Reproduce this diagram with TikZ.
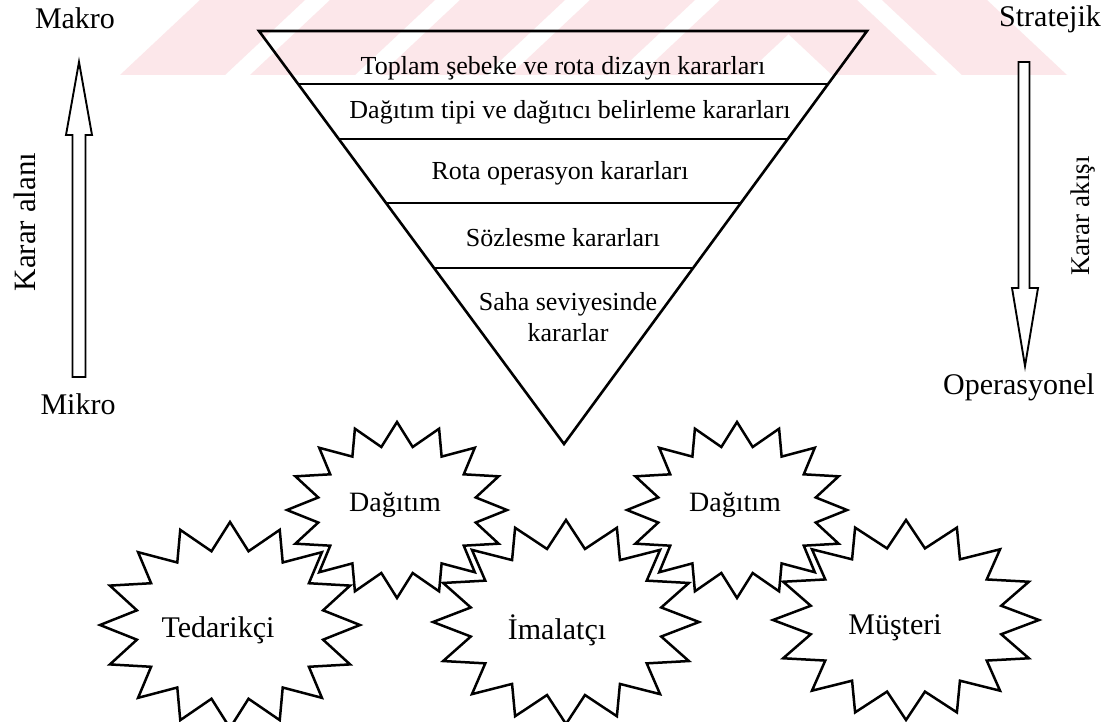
\documentclass[tikz,border=0pt]{standalone}
\usepackage{fontspec}
\setmainfont{Liberation Serif}
\usetikzlibrary{calc}

\definecolor{wmpink}{RGB}{252,231,234}

% a sixteen-point star drawn around (cx,cy) with radii rx, ry
\newcommand\gearstar[4]{%
  \filldraw[starline] ({#1+#3},{#2})
    \foreach \k in {1,...,31}{
      -- ({#1+ifthenelse(isodd(\k),0.73,1)*#3*cos(\k*11.25)},
          {#2-ifthenelse(isodd(\k),0.73,1)*#4*sin(\k*11.25)})
    } -- cycle;}

\begin{document}
\begin{tikzpicture}[x=1pt,y=-1pt,
  edge/.style={line width=2.6pt, line join=miter},
  divider/.style={line width=2pt},
  starline/.style={line width=2.5pt, line join=miter, fill=white, draw=black},
  blockarrow/.style={line width=1.9pt, line join=miter, fill=white},
  tritext/.style={font=\fontsize{26}{31}\selectfont, align=center, inner sep=0pt},
  sidetext/.style={font=\fontsize{30}{34}\selectfont, inner sep=0pt},
  startext/.style={font=\fontsize{30}{34}\selectfont, inner sep=0pt},
  smallstartext/.style={font=\fontsize{28}{32}\selectfont, inner sep=0pt}]
\useasboundingbox (0,0) rectangle (1103,722);
\fill[white] (0,0) rectangle (1103,722);

% faint striped band along the top
\begin{scope}
  \clip (120,75) -- (200,0) -- (1000,0) -- (1067,75) -- cycle;
  \foreach \s in {120,250,380,510,640}
    \fill[wmpink] (\s,75) -- (\s+105,75) -- (\s+185,0) -- (\s+80,0) -- cycle;
  \foreach \s in {832,962}
    \fill[wmpink] (\s,75) -- (\s+105,75) -- (\s+25,0) -- (\s-80,0) -- cycle;
\end{scope}

% inverted decision triangle
\coordinate (tl) at (259,31);
\coordinate (tr) at (867,31);
\coordinate (ap) at (564,444);
\foreach \t in {0.1284,0.2615,0.4165,0.5738}
  \draw[divider] ($(tl)!\t!(ap)$) -- ($(tr)!\t!(ap)$);
\draw[edge] (tl) -- (tr) -- (ap) -- cycle;

\node[tritext] (lvl1) at (563,68) {Toplam şebeke ve rota dizayn kararları};
\node[tritext] (lvl2) at (570,112) {Dağıtım tipi ve dağıtıcı belirleme kararları};
\node[tritext] (lvl3) at (560,173) {Rota operasyon kararları};
\node[tritext] (lvl4) at (563,238) {Sözlesme kararları};
\node[tritext] (lvl5) at (568,317) {Saha seviyesinde\\kararlar};

% left scale: Mikro -> Makro
\node[sidetext] (makro) at (75,18) {Makro};
\node[sidetext] (mikro) at (78,404) {Mikro};
\draw[blockarrow] (72.5,377) -- (72.5,135) -- (66,135) -- (79,62) -- (92,135)
  -- (85.5,135) -- (85.5,377) -- cycle;
\node[sidetext, font=\fontsize{31}{34}\selectfont, rotate=90] (alan) at (25,222) {Karar alanı};

% right scale: Stratejik -> Operasyonel
\node[sidetext] (strat) at (1050,19) {Stratejik};
\node[sidetext] (oper) at (1019,387) {Operasyonel};
\draw[blockarrow] (1018.5,62) -- (1029.5,62) -- (1029.5,288) -- (1038,288)
  -- (1025,366) -- (1012,288) -- (1018.5,288) -- cycle;
\node[sidetext, font=\fontsize{27}{32}\selectfont, rotate=90] (akis) at (1083,216) {Karar akışı};

% supply chain stars
\gearstar{230}{625}{130}{103}
\node[startext] (tedarikci) at (218,630) {Tedarikçi};
\gearstar{566}{622}{133}{102}
\node[startext] (imalatci) at (557,630) {İmalatçı};
\gearstar{906}{620}{133}{100}
\node[startext] (musteri) at (895,628) {Müşteri};
\gearstar{397}{510}{110}{88}
\node[smallstartext] (dagitim1) at (395,505) {Dağıtım};
\gearstar{737}{510}{110}{88}
\node[smallstartext] (dagitim2) at (735,505) {Dağıtım};
\end{tikzpicture}
\end{document}
